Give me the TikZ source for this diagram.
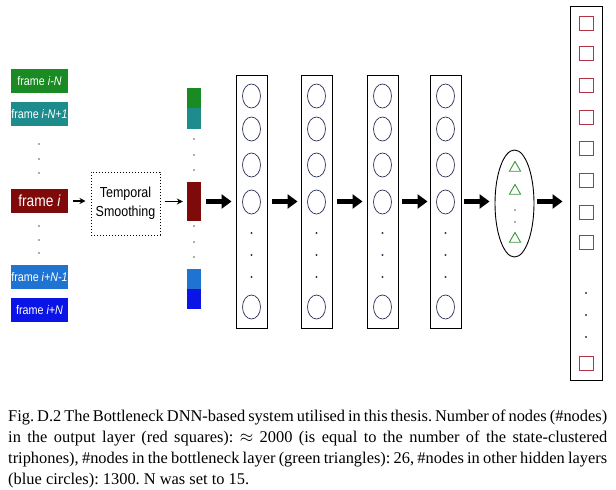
\documentclass[tikz,border=0pt]{standalone}
\usepackage{fontspec}
\setmainfont{Liberation Serif}
\newfontfamily\arialn[FakeStretch=0.86]{Liberation Sans}
\usetikzlibrary{arrows.meta,shapes.geometric}
\definecolor{cgreen}{HTML}{1A8A22}
\definecolor{cteal}{HTML}{1E8C8C}
\definecolor{cdred}{HTML}{7E0A0A}
\definecolor{cblueA}{HTML}{1F74D2}
\definecolor{cblueB}{HTML}{0A14E6}
\definecolor{cnavy}{HTML}{2E3358}
\definecolor{ctri}{HTML}{3A9A3A}
\definecolor{csq}{HTML}{B03444}
\begin{document}
\begin{tikzpicture}[x=1pt,y=-1pt,
  framebox/.style={draw=none,minimum width=57,minimum height=24,inner sep=0,text=white,font=\arialn\fontsize{12.5}{14}\selectfont},
  colpiece/.style={draw=none,minimum width=14,inner sep=0},
  layerbox/.style={draw=black,line width=0.9pt,minimum width=31,minimum height=253,inner sep=0},
  neuron/.style={ellipse,draw=cnavy,line width=0.7pt,minimum width=18,minimum height=24,inner sep=0},
  tri/.style={regular polygon,regular polygon sides=3,draw=ctri,line width=0.9pt,minimum size=13,inner sep=0},
  sq/.style={rectangle,draw=csq,line width=0.9pt,minimum size=14,inner sep=0},
  dotc/.style={circle,fill=cnavy,minimum size=2.2,inner sep=0},
  dotg/.style={circle,fill=gray!70!black,minimum size=1.8,inner sep=0},
  thinarrow/.style={-{Stealth[length=6pt,width=6pt]},line width=1.3pt},
  bigarrow/.style={-{Triangle[length=10pt,width=14pt]},line width=4.5pt},
]
\useasboundingbox (0,0) rectangle (616,490);

% input frames
\node[framebox,fill=cgreen] (fA) at (39.5,81) {frame \textit{i-N}};
\node[framebox,fill=cteal] (fB) at (39.5,114) {frame \textit{i-N+1}};
\node[framebox,fill=cdred,font=\arialn\fontsize{16}{18}\selectfont] (fi) at (39.5,201) {frame \textit{i}};
\node[framebox,fill=cblueA] (fC) at (39.5,277) {frame \textit{i+N-1}};
\node[framebox,fill=cblueB] (fD) at (39.5,310) {frame \textit{i+N}};
\foreach \y [count=\k] in {144,159,173,226,240,253} \node[dotg] (fd\k) at (39,\y) {};

% temporal smoothing
\node[draw=black,dotted,line width=1pt,minimum width=69,minimum height=63,inner sep=0,align=center,
  font=\arialn\fontsize{14.5}{19}\selectfont] (ts) at (125.5,203.5) {Temporal\\Smoothing};
\draw[thinarrow,shorten <=5pt,shorten >=5pt] (fi.east) -- (fi.east -| ts.west);

% smoothed column
\node[colpiece,fill=cgreen,minimum height=20] (cA) at (194,98) {};
\node[colpiece,fill=cteal,minimum height=21] (cB) at (194,118.5) {};
\node[colpiece,fill=cdred,minimum height=39] (ci) at (194,201.5) {};
\node[colpiece,fill=cblueA,minimum height=20] (cC) at (194,279) {};
\node[colpiece,fill=cblueB,minimum height=20] (cD) at (194,299) {};
\foreach \y [count=\k] in {139,155,170,226,242,257} \node[dotg] (cd\k) at (194,\y) {};
\draw[thinarrow,shorten <=4pt,shorten >=4pt] (ts.east |- ci.west) -- (ci.west);

% hidden layers
\foreach \x [count=\n] in {251.5,316.5,382.5,445.5}{
  \node[layerbox] (h\n) at (\x,201.5) {};
  \foreach \y [count=\k] in {96,129,165,202,307} \node[neuron] (h\n c\k) at (\x,\y) {};
  \foreach \y [count=\k] in {233,255,277} \node[dotc] (h\n d\k) at (\x,\y) {};
}

% bottleneck
\node[ellipse,draw=black,line width=0.9pt,minimum width=39,minimum height=107,inner sep=0] (bn) at (514.5,203.5) {};
\node[tri] (bt1) at (515,168) {};
\node[tri] (bt2) at (515,191) {};
\node[tri] (bt3) at (515,239) {};
\node[dotg] (bd1) at (515,210) {};
\node[dotg] (bd2) at (515,222) {};

% output layer
\node[draw=black,line width=0.9pt,minimum width=32,minimum height=374,inner sep=0] (out) at (586,193) {};
\foreach \y [count=\k] in {23,53,85,117,148,180,212,242,363} \node[sq] (os\k) at (586,\y) {};
\foreach \y [count=\k] in {293,315,337} \node[dotc] (od\k) at (586,\y) {};

% big arrows
\draw[bigarrow,shorten <=5pt,shorten >=4pt] (ci.east |- h1.west) -- (h1.west);
\draw[bigarrow,shorten <=5pt,shorten >=3pt] (h1.east) -- (h2.west);
\draw[bigarrow,shorten <=5pt,shorten >=4pt] (h2.east) -- (h3.west);
\draw[bigarrow,shorten <=4pt,shorten >=2pt] (h3.east) -- (h4.west);
\draw[bigarrow,shorten <=3pt,shorten >=5pt] (h4.east) -- (h4.east -| bn.west);
\draw[bigarrow,shorten <=3pt,shorten >=7pt] (h4.east -| bn.east) -- (h4.east -| out.west);

% caption
\node[anchor=north west,inner sep=0,text width=599pt,align=justify,
  font=\fontsize{16.4}{21}\selectfont] (cap) at (8,409.5) {\frenchspacing Fig. D.2 The Bottleneck DNN-based system utilised in this thesis. Number of nodes (\#nodes)\linebreak in the output layer (red squares): $\approx$ 2000 (is equal to the number of the state-clustered\linebreak triphones), \#nodes in the bottleneck layer (green triangles): 26, \#nodes in other hidden layers\linebreak (blue circles): 1300. N was set to 15.};
\end{tikzpicture}
\end{document}
